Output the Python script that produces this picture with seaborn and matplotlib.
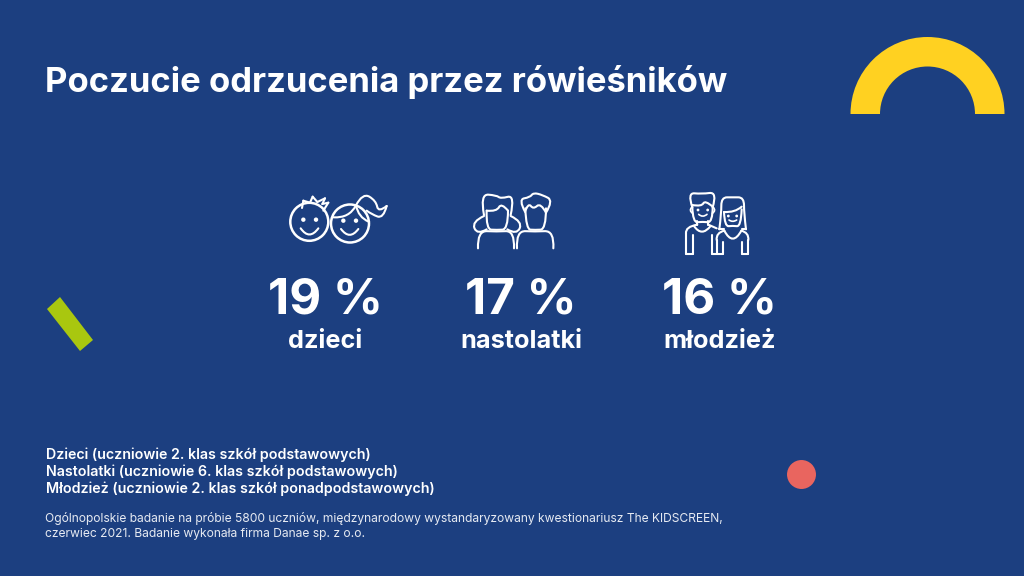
"""Infographic helpers for the peer rejection slide."""

from __future__ import annotations

import matplotlib.pyplot as plt
import numpy as np
import pandas as pd
import seaborn as sns
from matplotlib.patches import Ellipse, PathPatch, Polygon, Wedge
from matplotlib.path import Path

TITLE = "Poczucie odrzucenia przez rówieśników"
GROUPS = ["dzieci", "nastolatki", "młodzież"]
SHARES = [19, 17, 16]
GROUP_NOTES = [
    "Dzieci (uczniowie 2. klas szkół podstawowych)",
    "Nastolatki (uczniowie 6. klas szkół podstawowych)",
    "Młodzież (uczniowie 2. klas szkół ponadpodstawowych)",
]
SOURCE_LINES = [
    "Ogólnopolskie badanie na próbie 5800 uczniów, międzynarodowy wystandaryzowany kwestionariusz The KIDSCREEN,",
    "czerwiec 2021. Badanie wykonała firma Danae sp. z o.o.",
]

BACKGROUND = "#1C3F80"
YELLOW = "#FFD121"
GREEN = "#A9C70F"
RED = "#E9655F"
FONT = "Inter"


def curve(ax, points, origin, linewidth: float = 1.5):
    """Draw a smooth white stroke through points given in 3x crop coordinates."""

    pts = np.asarray(points, dtype=float) / 3 + np.asarray(origin)
    if len(pts) < 3:
        vertices, codes = pts, [Path.MOVETO, Path.LINETO]
    else:
        vertices = [pts[0]]
        codes = [Path.MOVETO]
        for i in range(1, len(pts) - 1):
            end = pts[i + 1] if i == len(pts) - 2 else (pts[i] + pts[i + 1]) / 2
            vertices += [pts[i], end]
            codes += [Path.CURVE3, Path.CURVE3]
    ax.add_patch(
        PathPatch(
            Path(vertices, codes),
            facecolor="none",
            edgecolor="white",
            linewidth=linewidth,
            capstyle="round",
            joinstyle="round",
        )
    )


def dots(ax, points, origin, radius: float = 1.8):
    for x, y in points:
        ax.add_patch(Ellipse((origin[0] + x / 3, origin[1] + y / 3), radius * 2, radius * 2, color="white", lw=0))


def ring(ax, center, radius):
    ax.add_patch(Ellipse(center, radius * 2, radius * 2, facecolor="none", edgecolor="white", linewidth=1.8))


def draw_children(ax):
    origin = (270, 180)
    ring(ax, (309.3, 221.8), 19)
    dots(ax, [(100, 119), (138, 119)], origin, 2.2)
    curve(ax, [(92, 145), (118, 182), (145, 145)], origin)
    curve(ax, [(96, 84), (100, 62)], origin)
    curve(ax, [(100, 62), (120, 68)], origin)
    curve(ax, [(120, 68), (128, 50)], origin)
    curve(ax, [(128, 50), (142, 66)], origin)
    curve(ax, [(142, 66), (165, 55)], origin)
    curve(ax, [(165, 55), (157, 72)], origin)
    curve(ax, [(157, 72), (175, 68)], origin)
    curve(ax, [(175, 68), (160, 92)], origin)

    ring(ax, (350, 223.5), 19)
    dots(ax, [(220, 122), (258, 122)], origin, 2.2)
    curve(ax, [(213, 147), (239, 182), (265, 147)], origin)
    curve(ax, [(190, 112), (238, 115), (258, 76)], origin)
    curve(ax, [(258, 76), (265, 112), (296, 125)], origin)
    curve(ax, [(258, 76), (278, 38), (318, 62), (325, 98), (350, 78)], origin)
    curve(ax, [(350, 78), (340, 116), (305, 103), (290, 92)], origin)


def draw_teens(ax):
    origin = (270, 180)
    # girl
    curve(ax, [(650, 92), (648, 148), (680, 150), (714, 148), (714, 92)], origin)
    curve(ax, [(642, 105), (630, 42), (680, 46), (692, 56), (735, 45), (722, 105)], origin)
    curve(ax, [(650, 92), (680, 95), (694, 68), (714, 92)], origin)
    curve(ax, [(642, 108), (605, 125), (622, 165), (650, 148)], origin)
    curve(ax, [(722, 108), (758, 125), (740, 165), (712, 148)], origin)
    curve(ax, [(624, 205), (622, 152), (680, 155), (734, 152), (732, 205)], origin)
    # boy
    curve(ax, [(766, 85), (768, 148), (795, 150), (828, 148), (828, 85)], origin)
    curve(ax, [(765, 95), (745, 58), (780, 52), (790, 38), (818, 45), (850, 62), (828, 98)], origin)
    curve(ax, [(765, 95), (775, 68), (790, 88), (812, 68), (828, 98)], origin)
    curve(ax, [(741, 205), (738, 152), (795, 155), (853, 152), (850, 205)], origin)


def draw_youth(ax):
    origin = (560, 180)
    # young man
    curve(ax, [(397, 80), (398, 128), (428, 125), (458, 128), (458, 80)], origin)
    curve(ax, [(397, 82), (382, 38), (425, 42), (472, 36), (458, 82)], origin)
    curve(ax, [(397, 75), (425, 80), (435, 60), (458, 80)], origin)
    dots(ax, [(414, 90), (443, 90)], origin, 1.4)
    curve(ax, [(416, 103), (428, 114), (441, 103)], origin, linewidth=1.2)
    curve(ax, [(395, 82), (386, 92), (398, 100)], origin, linewidth=1.2)
    curve(ax, [(460, 82), (469, 92), (457, 100)], origin, linewidth=1.2)
    curve(ax, [(412, 122), (412, 134)], origin)
    curve(ax, [(445, 122), (445, 134)], origin)
    curve(ax, [(402, 138), (425, 172), (452, 138)], origin)
    curve(ax, [(412, 134), (376, 140), (378, 160)], origin)
    curve(ax, [(378, 160), (378, 221)], origin)
    curve(ax, [(378, 221), (400, 221)], origin)
    curve(ax, [(400, 221), (400, 165)], origin)
    curve(ax, [(445, 134), (470, 145)], origin)
    curve(ax, [(457, 165), (457, 221)], origin)
    curve(ax, [(457, 221), (470, 221)], origin)
    # young woman
    curve(ax, [(478, 148), (484, 100), (484, 52), (518, 52), (552, 52), (552, 100), (558, 148)], origin)
    curve(ax, [(478, 148), (492, 148)], origin)
    curve(ax, [(545, 148), (558, 148)], origin)
    curve(ax, [(492, 96), (494, 140), (518, 137), (543, 140), (545, 88)], origin)
    curve(ax, [(492, 96), (525, 98), (545, 80)], origin)
    dots(ax, [(505, 108), (530, 108)], origin, 1.4)
    curve(ax, [(507, 120), (518, 128), (530, 120)], origin, linewidth=1.2)
    curve(ax, [(493, 152), (518, 200), (544, 152)], origin)
    curve(ax, [(493, 152), (468, 158), (470, 180)], origin)
    curve(ax, [(470, 180), (470, 221)], origin)
    curve(ax, [(470, 221), (488, 221)], origin)
    curve(ax, [(488, 221), (488, 185)], origin)
    curve(ax, [(544, 152), (567, 158), (565, 180)], origin)
    curve(ax, [(565, 180), (565, 221)], origin)
    curve(ax, [(565, 221), (547, 221)], origin)
    curve(ax, [(547, 221), (547, 185)], origin)


def plot_slide(output_path: str = "out.png"):
    """Plot the whole slide on an axis measured in image pixels."""

    fig, ax = plt.subplots(figsize=(10.24, 5.76))
    fig.subplots_adjust(left=0, right=1, bottom=0, top=1)
    fig.patch.set_facecolor(BACKGROUND)
    ax.set_facecolor(BACKGROUND)

    # decoration
    ax.add_patch(Wedge((927.5, 114), 77, 180, 360, width=29.5, facecolor=YELLOW, edgecolor="none"))
    ax.add_patch(Polygon([(47, 309), (60, 297), (93, 340), (80, 351)], facecolor=GREEN, edgecolor="none"))
    dot = pd.DataFrame({"x": [801], "y": [473.5]})
    sns.scatterplot(data=dot, x="x", y="y", color=RED, s=435, linewidth=0, ax=ax)

    ax.set_xlim(0, 1024)
    ax.set_ylim(576, 0)
    ax.set_axis_off()

    ax.text(45, 92, TITLE, color="white", fontsize=24.9, weight="bold", family=FONT, va="baseline")

    draw_children(ax)
    draw_teens(ax)
    draw_youth(ax)

    for center, share, group in zip([325, 521, 720], SHARES, GROUPS):
        ax.text(center, 313, f"{share} %", color="white", fontsize=35.5, weight="bold", family=FONT, ha="center", va="baseline")
        ax.text(center, 348, group, color="white", fontsize=18.2, weight="bold", family=FONT, ha="center", va="baseline")

    for y, note in zip([459, 476, 493], GROUP_NOTES):
        ax.text(46, y, note, color="white", fontsize=10.25, weight="semibold", family=FONT, va="baseline")
    for y, line in zip([522, 537], SOURCE_LINES):
        ax.text(45, y, line, color="#E6EAF2", fontsize=8.7, family=FONT, va="baseline")

    fig.savefig(output_path, dpi=100, facecolor=BACKGROUND)
    return fig, ax


plot_slide()
